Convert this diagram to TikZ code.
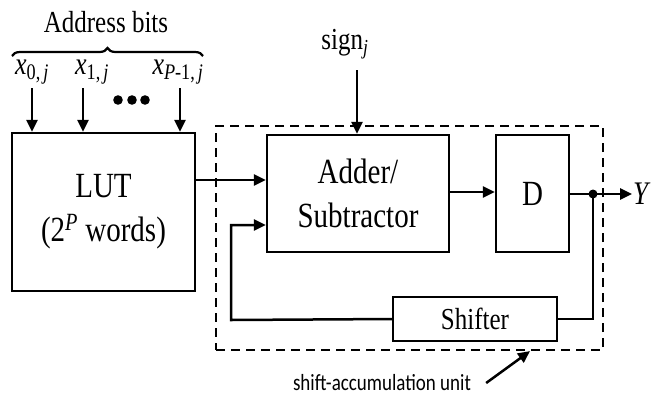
\documentclass[tikz,border=0pt]{standalone}
\usepackage{fontspec}
\usepackage{graphicx}
\setmainfont{Liberation Serif}
\newfontfamily\unitfont{Carlito}
\usetikzlibrary{arrows.meta,decorations.pathreplacing}

% the reference text is a little taller than it is wide
\newcommand{\tall}[1]{\scalebox{1}[1.22]{#1}}

\tikzset{
  block/.style={draw, line width=2.5pt, inner sep=0pt, align=center,
    font=\fontsize{29}{44}\selectfont},
  arr/.style={line width=2.5pt, -{Triangle[length=12pt,width=11pt]}},
  wire/.style={line width=2.5pt},
  bitlabel/.style={font=\fontsize{26}{30}\selectfont, inner sep=0pt}
}

\begin{document}
\begin{tikzpicture}[x=1pt,y=-1pt]
\useasboundingbox (0,0) rectangle (652,397);

% blocks
\node[block, minimum width=183pt, minimum height=158pt] (lut) at (103.5,212) {\tall{LUT}\\\tall{(2\textsuperscript{\textit{P}} words)}};
\node[draw, line width=2.2pt, dash pattern=on 9pt off 6pt, minimum width=387pt, minimum height=224pt] (acc) at (409.5,238) {};
\node[block, minimum width=182pt, minimum height=117pt] (adder) at (358,193.5) {\tall{Adder/}\\\tall{Subtractor}};
\node[block, minimum width=73pt, minimum height=117pt] (dreg) at (532.5,193.5) {\tall{D}};
\node[block, minimum width=164pt, minimum height=44pt, font=\fontsize{25}{30}\selectfont] (shifter) at (475,319) {\tall{Shifter}};

% address bits
\node[font=\fontsize{25}{30}\selectfont] (addr) at (106,22) {\tall{Address bits}};
\draw[decorate, decoration={brace, amplitude=8pt}, line width=2.2pt] (12,56) -- (203,56);
\node[bitlabel] (x0) at (32,72) {\tall{\textit{x}\textsubscript{0,\,\textit{j}}}};
\node[bitlabel] (x1) at (92,72) {\tall{\textit{x}\textsubscript{1,\,\textit{j}}}};
\node[bitlabel] (xp) at (178,72) {\tall{\textit{x}\textsubscript{\textit{P}-1,\,\textit{j}}}};
\foreach \n/\px in {0/32, 1/83, 2/180} {
  \coordinate (bit\n) at (\px,88);
  \draw[arr] (bit\n) -- (bit\n |- lut.north);
}
\foreach \px in {118, 132, 145}
  \fill (\px,100) circle (4.8pt);

% sign input
\node[font=\fontsize{25}{30}\selectfont, inner sep=0pt] (sign) at (345,44) {\tall{sign\textsubscript{\textit{j}}}};
\coordinate (signin) at (357,70);
\draw[arr] (signin) -- (signin |- adder.north);

% data path
\draw[arr] (lut.east |- 0,180) -- ([yshift=13.5pt]adder.west);
\draw[arr] (adder.east |- 0,192) -- (dreg.west |- 0,192);
\coordinate (tap) at (593,194);
\coordinate (yout) at (632,194);
\draw[arr] (dreg.east |- tap) -- (yout);
\fill (tap) circle (4.5pt);
\node[font=\fontsize{27}{30}\selectfont\itshape, anchor=west, inner sep=1pt] (ylabel) at (yout) {\tall{Y}};

% feedback
\coordinate (fb) at (231,320);
\draw[wire] (tap) -- (tap |- shifter.east) -- (shifter.east);
\draw[arr] (shifter.west) -- (fb) -- (fb |- 0,225) -- ([yshift=-31.5pt]adder.west);

% unit label
\node[font=\unitfont\fontsize{19}{22}\selectfont, inner sep=0pt] (unitlbl) at (382,383) {\tall{shift-accumulation unit}};
\draw[arr] ([xshift=15pt]unitlbl.east) -- ([xshift=120.5pt]acc.south);
\end{tikzpicture}
\end{document}
